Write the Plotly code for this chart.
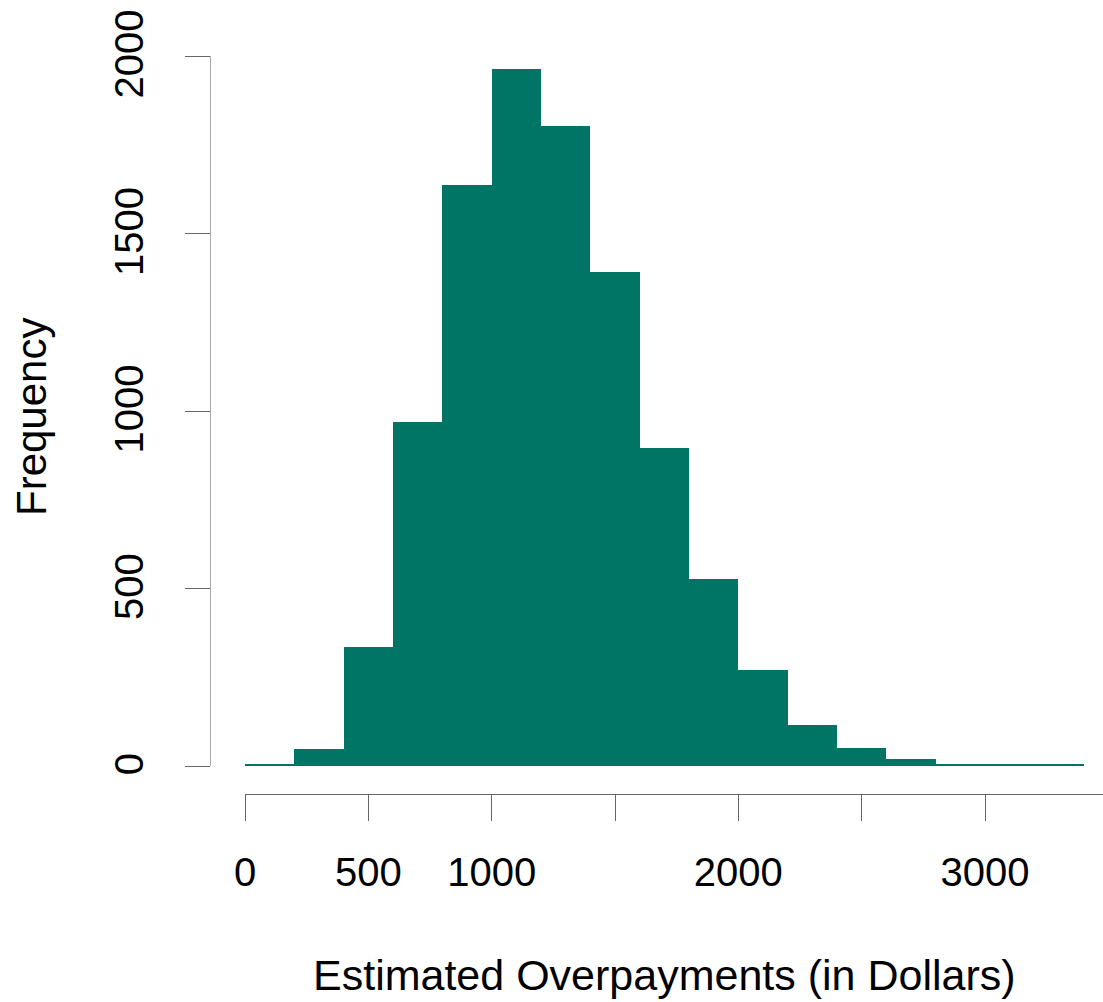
import plotly.graph_objects as go

# Histogram of estimated overpayments, $200 bins
bin_edges = [0, 200, 400, 600, 800, 1000, 1200, 1400, 1600, 1800,
             2000, 2200, 2400, 2600, 2800, 3000, 3200, 3400]
counts = [5, 47, 334, 970, 1636, 1963, 1803, 1392, 897, 526,
          270, 115, 50, 19, 5, 4, 3]

x_tick_vals = [0, 500, 1000, 1500, 2000, 2500, 3000]
x_tick_text = ["0", "500", "1000", "", "2000", "", "3000"]
y_tick_vals = [0, 500, 1000, 1500, 2000]
y_tick_text = ["0", "500", "1000", "1500", "2000"]

x_title = "Estimated Overpayments (in Dollars)"
y_title = "Frequency"

W, H = 1103, 1002
FONT = "Liberation Sans, Arial, sans-serif"
BAR_COLOR = "#007566"

centers = [(a + b) / 2 for a, b in zip(bin_edges[:-1], bin_edges[1:])]
widths = [b - a for a, b in zip(bin_edges[:-1], bin_edges[1:])]

fig = go.Figure(
    go.Bar(
        x=centers,
        y=counts,
        width=widths,
        marker=dict(color=BAR_COLOR, line=dict(width=0)),
        hoverinfo="x+y",
    )
)

# pixel helpers for paper coordinates
def px_x(p):
    return p / W

def px_y(p):
    return 1 - p / H

x_px0, x_scale = 245, 740 / 3000  # pixels at 0, pixels per dollar

fig.update_layout(
    width=W,
    height=H,
    autosize=False,
    margin=dict(l=0, r=0, t=0, b=0, pad=0, autoexpand=False),
    paper_bgcolor="white",
    plot_bgcolor="white",
    bargap=0,
    showlegend=False,
    font=dict(family=FONT, color="black"),
    xaxis=dict(
        domain=[px_x(x_px0), 1],
        range=[0, (W - x_px0) / x_scale],
        anchor="free",
        position=px_y(794),
        automargin=False,
        showgrid=False,
        zeroline=False,
        showline=True,
        linecolor="#666666",
        linewidth=1,
        ticks="outside",
        ticklen=26,
        tickwidth=1,
        tickcolor="#666666",
        tickvals=x_tick_vals,
        ticktext=x_tick_text,
        tickfont=dict(size=40, family=FONT, color="black"),
        ticklabelstandoff=17,
    ),
    yaxis=dict(
        domain=[px_y(766), px_y(56)],
        range=[0, 2000],
        anchor="free",
        position=px_x(210),
        automargin=False,
        showgrid=False,
        zeroline=False,
        showline=True,
        linecolor="#aaaaaa",
        linewidth=1,
        ticks="outside",
        ticklen=25,
        tickwidth=1,
        tickcolor="#666666",
        tickvals=y_tick_vals,
        ticktext=y_tick_text,
        tickangle=-90,
        tickfont=dict(size=40, family=FONT, color="black"),
        ticklabelstandoff=26,
        ticklabelshift=4,
    ),
    annotations=[
        dict(
            text=x_title, xref="paper", yref="paper",
            x=px_x(664), y=px_y(975), xanchor="center", yanchor="middle",
            showarrow=False, font=dict(size=43, family=FONT, color="black"),
        ),
        dict(
            text=y_title, xref="paper", yref="paper",
            x=px_x(31), y=px_y(417), xanchor="center", yanchor="middle",
            textangle=-90,
            showarrow=False, font=dict(size=42, family=FONT, color="black"),
        ),
    ],
)

fig.write_html("out.html")
